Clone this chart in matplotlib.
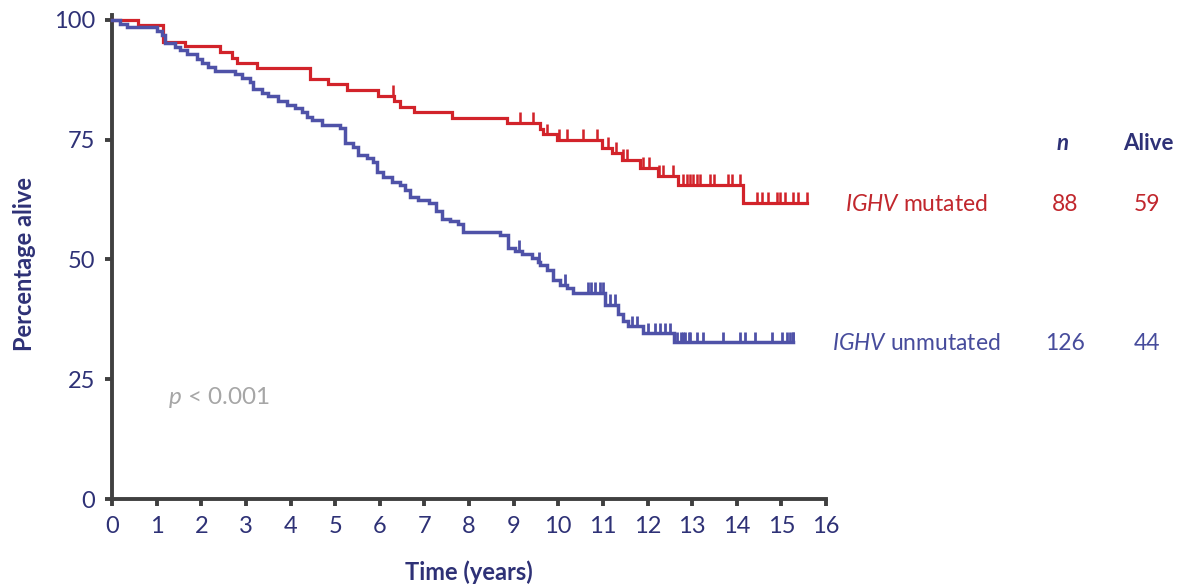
import numpy as np
import matplotlib
matplotlib.use("Agg")
import matplotlib.pyplot as plt

plt.rcParams['font.family'] = ['Lato', 'DejaVu Sans']
plt.rcParams['mathtext.fontset'] = 'custom'
plt.rcParams['mathtext.rm'] = 'Lato'
plt.rcParams['mathtext.it'] = 'Lato:italic'
plt.rcParams['mathtext.bf'] = 'Lato:bold'

# ---- data ----
mut_step_t = [0.58, 1.14, 1.64, 2.42, 2.69, 2.80, 3.25, 4.44, 4.84, 5.27, 5.96, 6.32, 6.46,
              6.77, 7.62, 8.86, 9.60, 9.66, 9.98, 10.99, 11.21, 11.43, 11.84, 12.24, 12.69, 14.13]
mut_step_s = [98.9, 95.4, 94.6, 93.2, 92.1, 91.0, 90.0, 87.7, 86.6, 85.4, 84.2, 83.0, 81.9,
              80.8, 79.6, 78.5, 77.3, 76.1, 75.0, 73.3, 72.2, 70.8, 69.1, 67.4, 65.6, 61.8]
mut_censor_t = [6.30, 9.15, 9.44, 9.75, 10.02, 10.20, 10.56, 10.87, 11.12, 11.30, 11.46, 11.55,
                11.91, 12.04, 12.26, 12.35, 12.58, 12.80, 12.89, 12.96, 13.03, 13.12, 13.18,
                13.41, 13.48, 13.81, 13.90, 14.08, 14.46, 14.57, 14.71, 14.91, 14.98, 15.09,
                15.25, 15.38, 15.58]
mut_end = 15.58

unm_step_t = [0.18, 0.34, 1.01, 1.12, 1.19, 1.41, 1.52, 1.68, 1.91, 2.02, 2.15, 2.31, 2.76,
              2.91, 3.09, 3.16, 3.36, 3.50, 3.72, 3.92, 4.10, 4.26, 4.37, 4.48, 4.71, 5.11,
              5.22, 5.40, 5.52, 5.72, 5.85, 5.94, 6.08, 6.28, 6.46, 6.57, 6.68, 6.86, 7.11,
              7.26, 7.40, 7.58, 7.76, 7.87, 8.70, 8.88, 9.04, 9.19, 9.42, 9.55, 9.60, 9.75,
              9.89, 10.04, 10.20, 10.34, 11.05, 11.35, 11.46, 11.57, 11.91, 12.60]
unm_step_s = [99.2, 98.4, 97.6, 96.8, 95.2, 94.4, 93.6, 92.8, 91.8, 91.0, 90.2, 89.4, 88.6,
              87.9, 87.1, 85.5, 84.7, 84.0, 83.1, 82.2, 81.6, 80.8, 79.7, 79.1, 78.1, 77.4,
              74.2, 73.4, 71.8, 71.2, 70.3, 68.2, 67.2, 66.2, 65.6, 64.5, 63.1, 62.4, 61.8,
              60.1, 58.5, 58.0, 57.4, 55.7, 55.1, 52.4, 51.8, 51.2, 50.2, 49.4, 48.9, 47.8,
              45.7, 44.7, 44.1, 43.0, 40.5, 38.6, 37.2, 36.0, 34.6, 32.7]
unm_censor_t = [9.13, 9.57, 10.16, 10.67, 10.74, 10.83, 10.94, 11.01, 11.17, 11.28, 11.66,
                11.77, 12.02, 12.17, 12.29, 12.40, 12.51, 12.67, 12.74, 12.80, 12.85, 12.92,
                12.96, 13.12, 13.25, 13.70, 14.08, 14.19, 14.42, 14.80, 15.02, 15.13, 15.20,
                15.25, 15.27]
unm_end = 15.27

groups = ["IGHV mutated", "IGHV unmutated"]
group_n = [88, 126]
group_alive = [59, 44]
x_ticks = list(range(0, 17))
y_ticks = [0, 25, 50, 75, 100]

# ---- styling ----
RED = '#D2232A'
BLUE = '#4F52A8'
RED_TXT = '#C1272D'
BLUE_TXT = '#474C9C'
NAVY = '#2E3176'
AXC = '#404040'

W, H = 1177, 584
fig = plt.figure(figsize=(W / 100, H / 100), dpi=100)
L, R, T, B = 112, 826, 15, 499
ax = fig.add_axes([L / W, 1 - B / H, (R - L) / W, (B - T) / H])


def fx(px):
    return px / W


def fy(py):
    return 1 - py / H


def km_draw(step_t, step_s, censor_t, t_end, color, lw):
    t = np.concatenate([[0.0], step_t, [t_end]])
    s = np.concatenate([[100.0], step_s, [step_s[-1]]])
    ax.plot(t, s, drawstyle='steps-post', color=color, lw=lw, solid_joinstyle='miter',
            clip_on=False, zorder=3)
    st = np.concatenate([[0.0], step_t])
    ss = np.concatenate([[100.0], step_s])
    idx = np.searchsorted(st, censor_t, side='right') - 1
    lev = ss[idx]
    ax.vlines(censor_t, lev, lev + 2.2, color=color, lw=lw * 0.8, zorder=3)


km_draw(mut_step_t, mut_step_s, mut_censor_t, mut_end, RED, 2.3)
km_draw(unm_step_t, unm_step_s, unm_censor_t, unm_end, BLUE, 2.5)

ax.set_xlim(0, 16)
ax.set_ylim(0, 101)
ax.set_xticks(x_ticks)
ax.set_yticks(y_ticks)
for sp in ['top', 'right']:
    ax.spines[sp].set_visible(False)
for sp in ['left', 'bottom']:
    ax.spines[sp].set_color(AXC)
    ax.spines[sp].set_linewidth(2.8)
ax.tick_params(axis='both', direction='out', length=5, width=2.8, color=AXC,
               labelcolor=NAVY, labelsize=17)
ax.tick_params(axis='y', pad=7)
ax.tick_params(axis='x', pad=7)

fig.text(fx(25), fy(264), 'Percentage alive', rotation=90, ha='center', va='center',
         fontsize=17, fontweight='bold', color=NAVY)
fig.text(fx(469), fy(572), 'Time (years)', ha='center', va='center',
         fontsize=17, fontweight='bold', color=NAVY)

# legend table
fig.text(fx(1063), fy(143), 'n', ha='center', va='center', fontsize=16,
         fontweight='bold', style='italic', color=NAVY)
fig.text(fx(1148), fy(143), 'Alive', ha='center', va='center', fontsize=16,
         fontweight='bold', color=NAVY)

rows_y = [204, 343]
cols = [RED_TXT, BLUE_TXT]
for name, n, a, yy, c in zip(groups, group_n, group_alive, rows_y, cols):
    g, rest = name.split(' ', 1)
    fig.text(fx(916), fy(yy), r'$\mathit{' + g + r'}$ ' + rest, ha='center', va='center',
             fontsize=16.5, color=c)
    fig.text(fx(1065), fy(yy), str(n), ha='center', va='center', fontsize=16.5, color=c)
    fig.text(fx(1147), fy(yy), str(a), ha='center', va='center', fontsize=16.5, color=c)

fig.text(fx(168), fy(398), r'$\mathit{p}$ < 0.001', ha='left', va='center',
         fontsize=17.5, color='#A6A6A6')

fig.savefig('out.png', dpi=100)
